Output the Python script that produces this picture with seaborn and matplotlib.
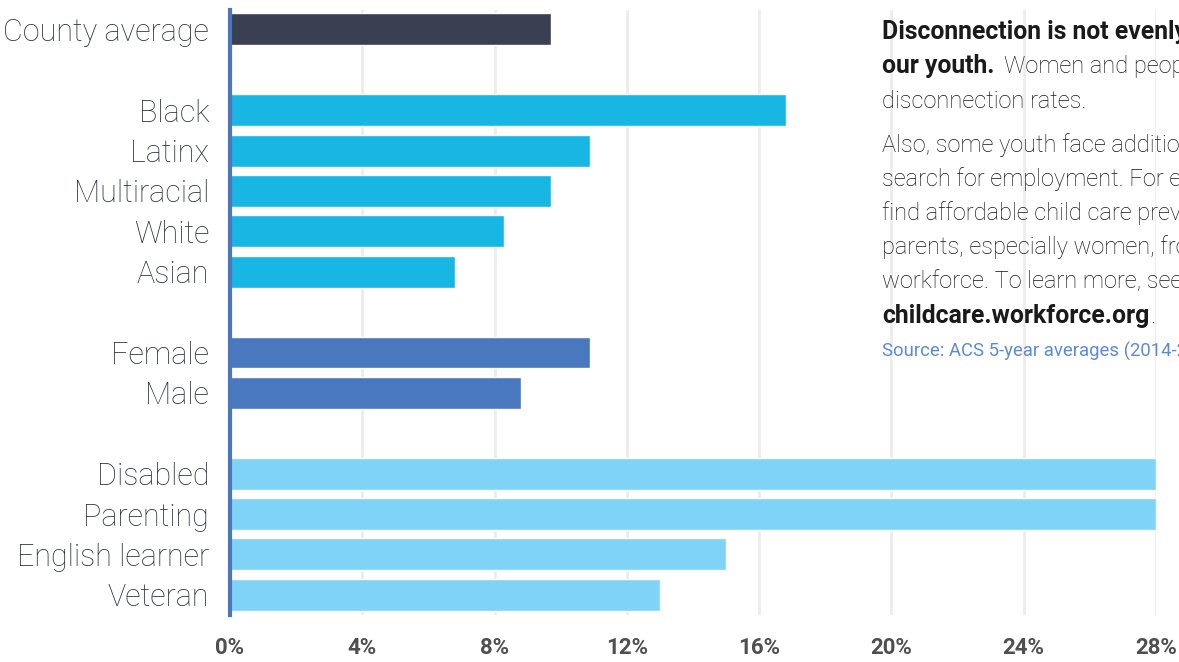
import matplotlib
matplotlib.use('Agg')
import matplotlib.pyplot as plt
import seaborn as sns
import pandas as pd

# ---- data ----
categories = ["County average", "Black", "Latinx", "Multiracial", "White", "Asian",
              "Female", "Male", "Disabled", "Parenting", "English learner", "Veteran"]
values = [9.7, 16.8, 10.9, 9.7, 8.3, 6.8, 10.9, 8.8, 28.0, 28.0, 15.0, 13.0]
groups = ["County", "Race", "Race", "Race", "Race", "Race",
          "Gender", "Gender", "Other", "Other", "Other", "Other"]
xticks = [0, 4, 8, 12, 16, 20, 24, 28]
xticklabels = [f"{t}%" for t in xticks]
order = ["County average", " ", "Black", "Latinx", "Multiracial", "White", "Asian",
         "  ", "Female", "Male", "   ", "Disabled", "Parenting", "English learner", "Veteran"]
palette = {"County": "#3a3f52", "Race": "#17b6e3", "Gender": "#4a78bf", "Other": "#7fd3f6"}

df = pd.DataFrame({"category": categories, "value": values, "group": groups})

sns.set_style("white")
plt.rcParams['font.family'] = ['Roboto', 'DejaVu Sans']

W, H = 1179, 662
fig = plt.figure(figsize=(W / 100, H / 100), dpi=100)
ax = fig.add_axes([230 / W, 1 - 615 / H, (1156 - 230) / W, (615 - 10) / H])

sns.barplot(data=df, x="value", y="category", hue="group", order=order,
            palette=palette, dodge=False, width=0.79, legend=False,
            saturation=1, ax=ax, orient="h")

ax.set_xlim(0, 28)
ax.set_ylim(14.5, -0.48)
for t in xticks:
    ax.axvline(t, color="#ececec", lw=2, zorder=0)
ax.set_axisbelow(True)
for s in ["top", "right", "bottom"]:
    ax.spines[s].set_visible(False)
ax.spines["left"].set_color("#4a78bf")
ax.spines["left"].set_linewidth(3)
ax.spines["left"].set_zorder(5)
ax.set_xlabel("")
ax.set_ylabel("")
ax.set_xticks(xticks)
ax.set_xticklabels(xticklabels, fontsize=16, fontweight="bold", color="#4f4f4f")
ax.tick_params(axis="x", length=0, pad=16)
ax.tick_params(axis="y", length=0, pad=15)
for lab in ax.get_yticklabels():
    lab.set_fontsize(22)
    lab.set_fontweight("light")
    lab.set_color("#2c3144")

# ---- text block ----
def px(x, y):
    return x / W, 1 - y / H

tx = 882
fs = 17
fsb = 17.8
dark = "#151515"
fig.text(*px(tx, 39), "Disconnection is not evenly distributed among", fontsize=fsb,
         fontweight="bold", color="#1a1a1a", va="baseline")
t2 = fig.text(*px(tx, 73), "our youth.", fontsize=fsb, fontweight="bold",
              color="#1a1a1a", va="baseline")
fig.canvas.draw()
bb = t2.get_window_extent(renderer=fig.canvas.get_renderer())
fig.text((bb.x1 + 10) / W, 1 - 73 / H, "Women and people of color have higher",
         fontsize=fs, fontweight="light", color=dark, va="baseline")
fig.text(*px(tx, 108), "disconnection rates.", fontsize=fs, fontweight="light",
         color=dark, va="baseline")
para = ["Also, some youth face additional barriers in their",
        "search for employment. For example, the inability to",
        "find affordable child care prevents many young",
        "parents, especially women, from entering the",
        "workforce. To learn more, see"]
bases = [152, 186, 220, 254, 288]
for line, b in zip(para, bases):
    fig.text(*px(tx, b), line, fontsize=fs, fontweight="light", color=dark, va="baseline")
t3 = fig.text(*px(tx, 323), "childcare.workforce.org", fontsize=fsb, fontweight="bold",
              color="#1a1a1a", va="baseline")
fig.canvas.draw()
bb3 = t3.get_window_extent(renderer=fig.canvas.get_renderer())
fig.text((bb3.x1 + 1) / W, 1 - 323 / H, ".", fontsize=fs, fontweight="light",
         color=dark, va="baseline")
fig.text(*px(tx, 357), "Source: ACS 5-year averages (2014-2018)", fontsize=13.3,
         fontweight="normal", color="#5b8bd4", va="baseline")

fig.savefig("out.png", dpi=100)
